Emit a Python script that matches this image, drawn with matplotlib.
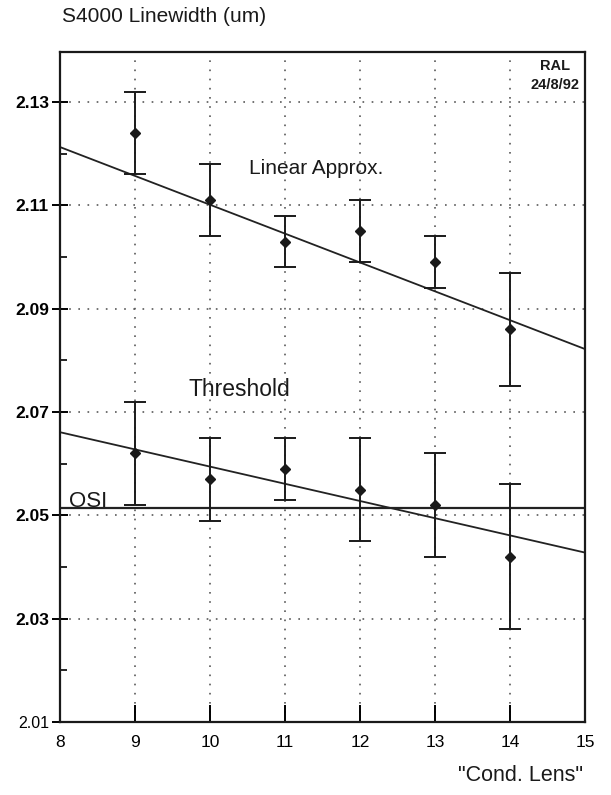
import numpy as np
import matplotlib
matplotlib.use('Agg')
import matplotlib.pyplot as plt
from matplotlib.ticker import MultipleLocator

plt.rcParams['font.family'] = ['Liberation Sans', 'DejaVu Sans']

# Condenser lens setting
lens = [9, 10, 11, 12, 13, 14]
# Linewidth from linear approximation fit (um) and its error
lin_val = [2.124, 2.111, 2.103, 2.105, 2.099, 2.086]
lin_err = [0.008, 0.007, 0.005, 0.006, 0.005, 0.011]
# Linewidth from threshold method (um) and its error
thr_val = [2.062, 2.057, 2.059, 2.055, 2.052, 2.042]
thr_err = [0.010, 0.008, 0.006, 0.010, 0.010, 0.014]
# fitted trend lines, end points at x = 8 and x = 15
fit_x = [8, 15]
lin_fit = [2.1213, 2.0822]
thr_fit = [2.0661, 2.0428]
osi_level = 2.0515

yticks = [2.01, 2.03, 2.05, 2.07, 2.09, 2.11, 2.13]
xticks = [8, 9, 10, 11, 12, 13, 14, 15]

fig = plt.figure(figsize=(6.11, 7.95), dpi=100)
ax = fig.add_axes([0.0982, 0.0918, 0.8592, 0.8428])
ax.set_xlim(8, 15)
ax.set_ylim(2.01, 2.1397)

# dotted grid
for gx in xticks[1:-1]:
    ax.axvline(gx, color='0.35', lw=1.2, ls=(0, (1, 4.5)), zorder=1)
for gy in yticks[1:]:
    ax.axhline(gy, color='0.35', lw=1.2, ls=(0, (1, 4.5)), zorder=1)

ax.plot(fit_x, lin_fit, color='#222222', lw=1.3, zorder=2)
ax.plot(fit_x, thr_fit, color='#222222', lw=1.3, zorder=2)
ax.axhline(osi_level, color='#222222', lw=1.6, zorder=2)

ax.errorbar(lens, lin_val, yerr=lin_err, fmt='D', ms=5, color='#1a1a1a',
            elinewidth=1.4, capsize=8, capthick=1.4, zorder=3)
ax.errorbar(lens, thr_val, yerr=thr_err, fmt='D', ms=5, color='#1a1a1a',
            elinewidth=1.4, capsize=8, capthick=1.4, zorder=3)

ax.text(11.42, 2.1172, 'Linear Approx.', fontsize=15, ha='center', va='center', color='#1a1a1a')
ax.text(9.72, 2.0743, 'Threshold', fontsize=16.5, ha='left', va='center', color='#1a1a1a')
ax.text(8.12, 2.0506, 'OSI', fontsize=16, ha='left', va='bottom', color='#1a1a1a')
ax.text(14.6, 2.1383, 'RAL\n24/8/92', fontsize=10.5, ha='center', va='top',
        color='#1a1a1a', fontweight='bold', linespacing=1.4, multialignment='center')

ax.set_xticks(xticks)
ax.set_yticks(yticks)
ax.yaxis.set_minor_locator(MultipleLocator(0.01))
ax.set_yticklabels([f'{v:.2f}' for v in yticks], fontweight='bold', fontsize=12.5)
ax.get_yticklabels()[0].set_fontweight('normal')
ax.get_yticklabels()[0].set_fontsize(11.5)
ax.set_xticklabels([str(v) for v in xticks], fontsize=12.5)
ax.tick_params(axis='x', direction='in', length=12, width=1.4, pad=9)
ax.tick_params(axis='y', which='major', direction='inout', length=12, width=1.4, pad=2)
ax.tick_params(axis='y', which='minor', direction='in', length=5, width=1.2)
ax.tick_params(top=False, right=False)
for s in ax.spines.values():
    s.set_linewidth(1.6)
    s.set_color('#1a1a1a')

fig.text(0.1015, 0.979, 'S4000 Linewidth (um)', fontsize=15, ha='left', va='center', color='#1a1a1a')
fig.text(0.954, 0.025, '"Cond. Lens"', fontsize=15.5, ha='right', va='center', color='#1a1a1a')

fig.savefig('out.png', dpi=100)
